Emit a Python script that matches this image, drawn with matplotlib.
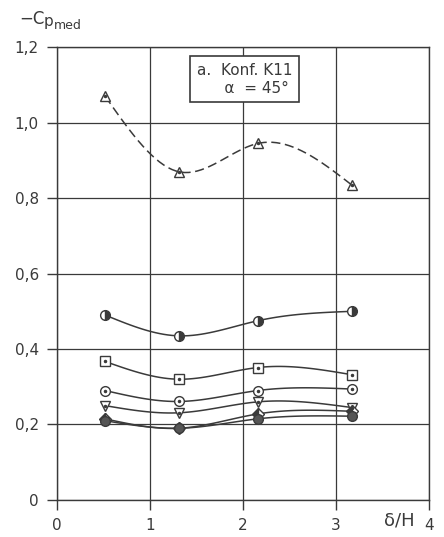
import numpy as np
import matplotlib
matplotlib.use("Agg")
import matplotlib.pyplot as plt

# delta/H positions of the measuring points
x = [0.52, 1.31, 2.16, 3.17]

tri_up = [1.07, 0.87, 0.945, 0.835]
half_circ = [0.49, 0.435, 0.475, 0.50]
square = [0.367, 0.32, 0.351, 0.332]
circ = [0.29, 0.261, 0.29, 0.294]
tri_down = [0.25, 0.231, 0.26, 0.245]
diamond = [0.215, 0.19, 0.228, 0.235]
dark_circ = [0.21, 0.19, 0.215, 0.222]

xticks = [0, 1, 2, 3, 4]
yticks = [0, 0.2, 0.4, 0.6, 0.8, 1.0, 1.2]
ylabels = ["0", "0,2", "0,4", "0,6", "0,8", "1,0", "1,2"]


def smooth(xs, ys, n=60):
    # natural cubic spline through the given points, only for drawing the curve
    xs = np.asarray(xs, float)
    ys = np.asarray(ys, float)
    m = len(xs)
    h = np.diff(xs)
    A = np.zeros((m, m))
    r = np.zeros(m)
    A[0, 0] = A[-1, -1] = 1
    for i in range(1, m - 1):
        A[i, i - 1] = h[i - 1]
        A[i, i] = 2 * (h[i - 1] + h[i])
        A[i, i + 1] = h[i]
        r[i] = 6 * ((ys[i + 1] - ys[i]) / h[i] - (ys[i] - ys[i - 1]) / h[i - 1])
    M = np.linalg.solve(A, r)
    xx = np.linspace(xs[0], xs[-1], n)
    yy = np.empty_like(xx)
    for k, t in enumerate(xx):
        i = min(np.searchsorted(xs, t, side="right") - 1, m - 2)
        a = xs[i + 1] - t
        b = t - xs[i]
        yy[k] = (M[i] * a**3 + M[i + 1] * b**3) / (6 * h[i]) \
            + (ys[i] / h[i] - M[i] * h[i] / 6) * a \
            + (ys[i + 1] / h[i] - M[i + 1] * h[i] / 6) * b
    return xx, yy


fig = plt.figure(figsize=(4.44, 5.37), dpi=100)
ax = fig.add_axes([0.128, 0.069, 0.838, 0.843])
col = "#3a3a3a"

series = [
    (tri_up, "^", "none", "--", True),
    (half_circ, "o", "right", "-", False),
    (square, "s", "none", "-", True),
    (circ, "o", "none", "-", True),
    (tri_down, "v", "none", "-", True),
    (diamond, "D", "left", "-", False),
    (dark_circ, "o", "full", "-", False),
]

for ys, mk, fill, ls, dot in series:
    xx, yy = smooth(x, ys)
    line, = ax.plot(xx, yy, ls=ls, color=col, lw=1.1, zorder=3)
    if ls == "--":
        line.set_dashes((6, 3))
    size = 7 if mk != "D" else 6
    if fill == "none":
        ax.plot(x, ys, ls="none", marker=mk, ms=size, mfc="white", mec=col, mew=1.0, zorder=4)
    elif fill == "full":
        ax.plot(x, ys, ls="none", marker=mk, ms=size, mfc="#555555", mec=col, mew=1.0, zorder=4)
    else:
        ax.plot(x, ys, ls="none", marker=mk, ms=size, fillstyle=fill, mfc=col,
                mfcalt="white", mec=col, mew=1.0, zorder=4)
    if dot:
        ax.plot(x, ys, ls="none", marker="o", ms=1.5, color=col, zorder=5)

ax.set_xlim(0, 4)
ax.set_ylim(0, 1.2)
ax.set_xticks(xticks)
ax.set_yticks(yticks)
ax.set_yticklabels(ylabels)
ax.grid(True, color=col, lw=0.9)
for s in ax.spines.values():
    s.set_color(col)
    s.set_linewidth(1.0)
ax.tick_params(colors=col, labelsize=11, length=7, width=1.0, pad=6)

ax.text(2.02, 1.115, "a.  Konf. K11\n     \u03b1  = 45\u00b0", ha="center", va="center",
        fontsize=11, color=col, zorder=6,
        bbox=dict(boxstyle="square,pad=0.45", fc="white", ec=col, lw=1.2))

# y-axis label -Cp_med, built from pieces so the subscript stays readable
fig.text(19 / 444, 1 - 24 / 537, "\u2212C", fontsize=12, color=col, va="baseline")
fig.text(44 / 444, 1 - 26 / 537, "p", fontsize=11, color=col, va="baseline")
fig.text(54 / 444, 1 - 29 / 537, "med", fontsize=9, color=col, va="baseline")
fig.text(0.865, 0.022, "\u03b4/H", fontsize=13, color=col)

fig.savefig("out.png", dpi=100)
